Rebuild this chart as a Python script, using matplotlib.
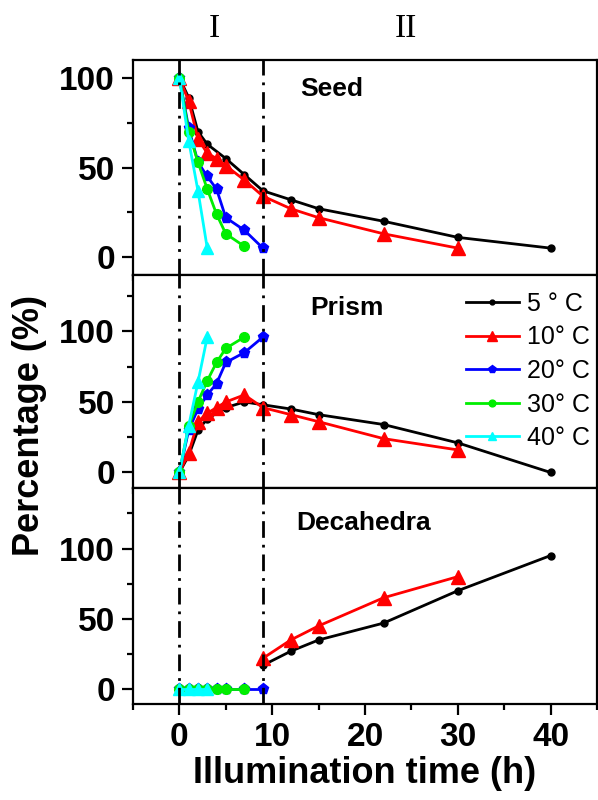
# Phase fractions vs illumination time, three stacked panels

import matplotlib
matplotlib.use('Agg')
from matplotlib import pyplot as plt
from matplotlib.ticker import MultipleLocator

# ---- data ----
temps = ['5 ° C', '10° C', '20° C', '30° C', '40° C']

# Seed
seed_t_5 = [0, 1, 2, 3, 5, 7, 9, 12, 15, 22, 30, 40]
seed_v_5 = [100, 89, 70, 63, 55, 46, 37, 32, 27, 20, 11, 5]
seed_t_10 = [0, 1, 2, 3, 4, 5, 7, 9, 12, 15, 22, 30]
seed_v_10 = [100, 87, 66, 58, 55, 51, 43, 34, 27, 22, 13, 5]
seed_t_20 = [0, 1, 2, 3, 4, 5, 7, 9]
seed_v_20 = [100, 72, 53, 45, 38, 22, 15, 5]
seed_t_30 = [0, 1, 2, 3, 4, 5, 7]
seed_v_30 = [100, 70, 53, 38, 24, 13, 6]
seed_t_40 = [0, 1, 2, 3]
seed_v_40 = [100, 65, 37, 5]

# Prism
prism_t_5 = [0, 1, 2, 3, 5, 7, 9, 12, 15, 22, 30, 40]
prism_v_5 = [0, 12, 30, 38, 46, 50, 48, 45, 41, 34, 21, 0]
prism_t_10 = [0, 1, 2, 3, 4, 5, 7, 9, 12, 15, 22, 30]
prism_v_10 = [0, 14, 36, 42, 46, 50, 55, 46, 41, 36, 24, 16]
prism_t_20 = [0, 1, 2, 3, 4, 5, 7, 9]
prism_v_20 = [0, 30, 45, 55, 63, 78, 85, 96]
prism_t_30 = [0, 1, 2, 3, 4, 5, 7]
prism_v_30 = [0, 33, 50, 65, 78, 88, 96]
prism_t_40 = [0, 1, 2, 3]
prism_v_40 = [0, 33, 64, 96]

# Decahedra
deca_t_5 = [9, 12, 15, 22, 30, 40]
deca_v_5 = [17, 27, 35, 47, 70, 95]
deca_t_10 = [9, 12, 15, 22, 30]
deca_v_10 = [22, 35, 45, 65, 80]
deca_t_20 = [0, 1, 2, 3, 4, 5, 7, 9]
deca_v_20 = [0, 0, 0, 0, 0, 0, 0, 0]
deca_t_30 = [0, 1, 2, 3, 4, 5, 7]
deca_v_30 = [0, 0, 0, 0, 0, 0, 0]
deca_t_40 = [0, 1, 2, 3]
deca_v_40 = [0, 0, 0, 0]

panel_names = ['Seed', 'Prism', 'Decahedra']
phase_lines = [0, 9]

# ---- styles ----
plt.rcParams['font.family'] = ['Liberation Sans', 'DejaVu Sans']
colors = ['black', '#ff0000', '#0000ff', '#00ee00', '#00ffff']
markers = ['o', '^', 'p', 'o', '^']
msizes = [5, 9.5, 8, 7, 8]

fig = plt.figure(figsize=(5.98, 8), dpi=100)
left, width = 133 / 598, 464 / 598
ax1 = fig.add_axes([left, 1 - 275 / 800, width, 215 / 800])
ax2 = fig.add_axes([left, 1 - 488 / 800, width, 213 / 800])
ax3 = fig.add_axes([left, 1 - 704 / 800, width, 216 / 800])
axes = [ax1, ax2, ax3]

series = [
    [(seed_t_5, seed_v_5), (seed_t_10, seed_v_10), (seed_t_20, seed_v_20),
     (seed_t_30, seed_v_30), (seed_t_40, seed_v_40)],
    [(prism_t_5, prism_v_5), (prism_t_10, prism_v_10), (prism_t_20, prism_v_20),
     (prism_t_30, prism_v_30), (prism_t_40, prism_v_40)],
    [(deca_t_5, deca_v_5), (deca_t_10, deca_v_10), (deca_t_20, deca_v_20),
     (deca_t_30, deca_v_30), (deca_t_40, deca_v_40)],
]
ylims = [(-10, 110), (-11, 140), (-10.5, 143)]
name_pos = [(16.4, 0.865), (18, 0.845), (19.8, 0.838)]

for ax, data, ylim, name, pos in zip(axes, series, ylims, panel_names, name_pos):
    for (t, v), c, m, ms, lab in zip(data, colors, markers, msizes, temps):
        ax.plot(t, v, color=c, marker=m, markersize=ms, lw=2.0, label=lab)
    # phase boundaries
    for xl in phase_lines:
        ax.axvline(xl, color='black', lw=2.0, linestyle=(0, (6, 2.5, 1, 2.5)), zorder=5)
    ax.set_xlim(-5, 45)
    ax.set_ylim(*ylim)
    ax.xaxis.set_major_locator(MultipleLocator(10))
    ax.xaxis.set_minor_locator(MultipleLocator(5))
    ax.yaxis.set_major_locator(MultipleLocator(50))
    ax.yaxis.set_minor_locator(MultipleLocator(25))
    ax.tick_params(which='major', direction='out', length=8, width=1.6,
                   labelsize=24, pad=5)
    ax.tick_params(which='minor', direction='out', length=4.5, width=1.6)
    for s in ax.spines.values():
        s.set_linewidth(1.6)
    for lbl in ax.get_yticklabels() + ax.get_xticklabels():
        lbl.set_fontweight('bold')
    ax.text(pos[0], pos[1], name, transform=ax.get_xaxis_transform(),
            ha='center', va='center', fontsize=19, fontweight='bold')

ax1.tick_params(labelbottom=False)
ax2.tick_params(labelbottom=False)

# phase labels on top
ax1.text(3.8, 1.145, 'I', transform=ax1.get_xaxis_transform(), ha='center',
         va='center', fontsize=24, family='Liberation Serif')
ax1.text(24.4, 1.145, 'II', transform=ax1.get_xaxis_transform(), ha='center',
         va='center', fontsize=24, family='Liberation Serif')

ax3.set_xlabel('Illumination time (h)', fontsize=26, fontweight='bold', labelpad=2)
fig.text(30 / 598, 1 - 425 / 800, 'Percentage (%)', rotation=90, ha='center',
         va='center', fontsize=26, fontweight='bold')

ax2.legend(loc='upper left', bbox_to_anchor=(466 / 598, 1 - 292 / 800),
           bbox_transform=fig.transFigure, frameon=False, fontsize=18,
           handlelength=2.1, handletextpad=0.35, labelspacing=0.38,
           borderpad=0, borderaxespad=0, markerscale=0.7)

plt.savefig('out.png', dpi=100)
